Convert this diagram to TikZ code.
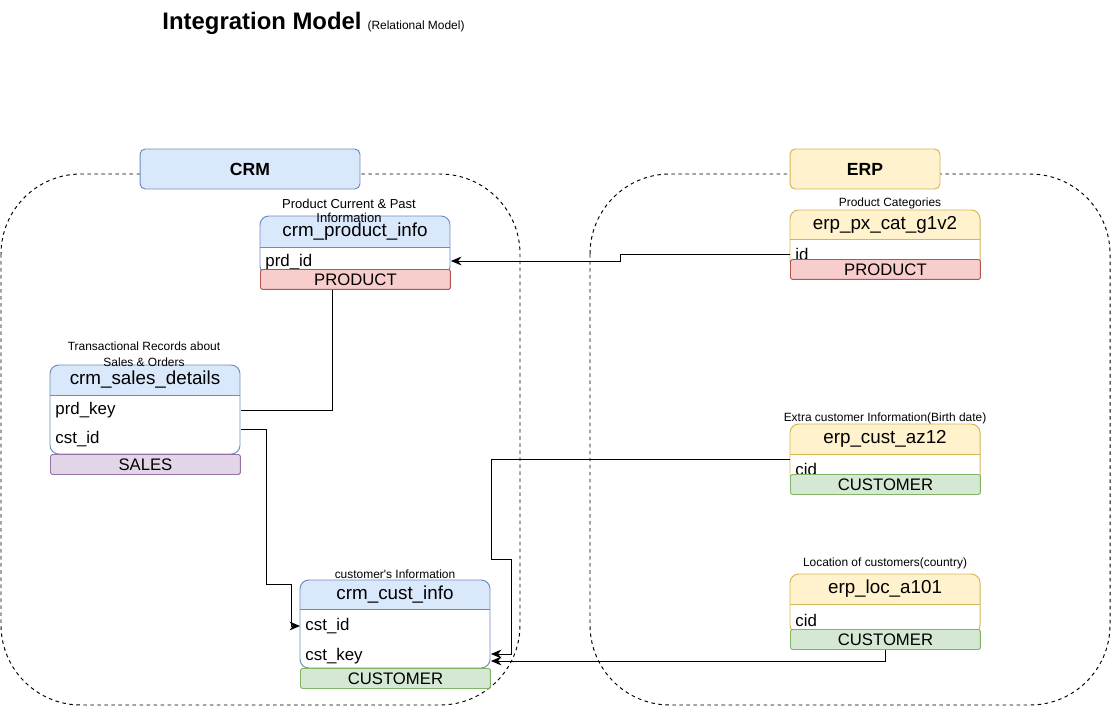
\documentclass[tikz,border=0pt]{standalone}
\usepackage{fontspec}
\setmainfont{Liberation Sans}
\usepackage{tikz}
\usetikzlibrary{arrows.meta}

\definecolor{crmfill}{HTML}{DAE8FC}
\definecolor{crmline}{HTML}{6C8EBF}
\definecolor{erpfill}{HTML}{FFF2CC}
\definecolor{erpline}{HTML}{D6B656}
\definecolor{prodfill}{HTML}{F8CECC}
\definecolor{prodline}{HTML}{B85450}
\definecolor{custfill}{HTML}{D5E8D4}
\definecolor{custline}{HTML}{82B366}
\definecolor{salesfill}{HTML}{E1D5E7}
\definecolor{salesline}{HTML}{9673A6}

\begin{document}
\begin{tikzpicture}[x=0.02cm,y=-0.02cm,line width=0.55pt,
  crmhead/.style={fill=crmfill},
  crmedge/.style={draw=crmline},
  erphead/.style={fill=erpfill},
  erpedge/.style={draw=erpline},
  container/.style={draw,dash pattern=on 2pt off 2pt,rounded corners=1.6cm},
  sysbox/.style={draw,rounded corners=3pt,minimum width=#1,minimum height=0.8cm,font=\fontsize{10}{12}\selectfont\bfseries},
  hdr/.style={font=\fontsize{10.7}{13}\selectfont},
  field/.style={anchor=west,inner xsep=0.1cm,inner ysep=0pt,text width=3.6cm,minimum height=0.6cm,align=left,font=\fontsize{9.6}{11}\selectfont},
  bar/.style={draw=#1line,fill=#1fill,rounded corners=1pt,minimum width=3.8cm,minimum height=0.4cm,inner sep=0pt,font=\fontsize{9.5}{11}\selectfont},
  note/.style={align=center,inner sep=0pt,font=\fontsize{6.8}{8.8}\selectfont},
  link/.style={-{Stealth[length=6pt,width=5pt]}}]
  \useasboundingbox (0,0) rectangle (1111,706);

  % title
  \node[anchor=base west,inner sep=0pt,font=\fontsize{13.6}{16}\selectfont\bfseries] (title) at (162,30) {Integration Model};
  \node[anchor=base west,inner sep=0pt,font=\fontsize{6.8}{8}\selectfont] (subtitle) at ([xshift=0.1cm]title.base east) {(Relational Model)};

  % source systems
  \draw[container] (1,174) rectangle (520,705);
  \draw[container] (590,174) rectangle (1110,705);
  \node[sysbox=4.4cm,draw=crmline,fill=crmfill] (crm) at (250,169) {CRM};
  \node[sysbox=3cm,draw=erpline,fill=erpfill] (erp) at (865,169) {ERP};

  % tables
  \foreach \nm/\lx/\ty/\hy/\by/\cl/\tname in {
      prod/260/216/247/275/crm/crm\_product\_info,
      sales/50/365/395/454/crm/crm\_sales\_details,
      cust/300/580/609/668/crm/crm\_cust\_info,
      pxcat/790/210/239/270/erp/erp\_px\_cat\_g1v2,
      az/790/424/454/484/erp/erp\_cust\_az12,
      loc/790/574/604/634/erp/erp\_loc\_a101}{
    \begin{scope}
      \clip[rounded corners=5pt] (\lx,\ty) rectangle (\lx+190,\by);
      \fill[white] (\lx,\ty) rectangle (\lx+190,\by);
      \fill[\cl head] (\lx,\ty) rectangle (\lx+190,\hy);
    \end{scope}
    \draw[\cl edge] (\lx,\hy) -- (\lx+190,\hy);
    \draw[\cl edge,rounded corners=5pt] (\lx,\ty) rectangle (\lx+190,\by);
    \node[hdr] (\nm) at ({\lx+95},{(\ty+\hy)/2}) {\tname};
  }

  % columns
  \foreach \nm/\lx/\cy/\txt in {
      prod-id/260/262/prd\_id,
      sales-key/50/410/prd\_key,
      sales-cst/50/439/cst\_id,
      cust-id/300/626/cst\_id,
      cust-key/300/656/cst\_key,
      pxcat-id/790/254/id,
      az-cid/790/469/cid,
      loc-cid/790/620/cid}
    \node[field] (\nm) at (\lx,\cy) {\txt};

  % layers
  \foreach \nm/\lx/\ty/\cl/\txt in {
      prodbar/260/269/prod/PRODUCT,
      salesbar/50/454/sales/SALES,
      custbar/300/668/cust/CUSTOMER,
      pxbar/790/259/prod/PRODUCT,
      azbar/790/474/cust/CUSTOMER,
      locbar/790/629/cust/CUSTOMER}
    \node[bar=\cl,anchor=north west] (\nm) at (\lx,\ty) {\txt};

  % descriptions
  \node[note,font=\fontsize{7.4}{7.6}\selectfont] (prodnote) at (349,211) {Product Current \& Past\\Information};
  \node[note] (salesnote) at (144,354) {Transactional Records about\\Sales \& Orders};
  \node[note] (custnote) at (395,574) {customer\textquotesingle s Information};
  \node[note] (pxnote) at (890,203) {Product Categories};
  \node[note] (aznote) at (885,418) {Extra customer Information(Birth date)};
  \node[note] (locnote) at (885,563) {Location of customers(country)};

  % relations
  \draw[link] (pxcat-id.west) -- ++(-170,0) |- ([yshift=0.02cm]prod-id.east);
  \draw ([xshift=-0.46cm]prodbar.south) |- (sales-key.east);
  \draw[link] ([yshift=0.2cm]sales-cst.east) -- ++(26,0) |- ++(25,155) |- (cust-id.west);
  \draw[link] ([yshift=0.2cm]az-cid.west) -- ++(-299,0) -- ++(0,100) -- ++(20,0) |- ([yshift=0.04cm]cust-key.east);
  \draw[link] (locbar.south) |- ([yshift=-0.1cm]cust-key.east);
\end{tikzpicture}
\end{document}
